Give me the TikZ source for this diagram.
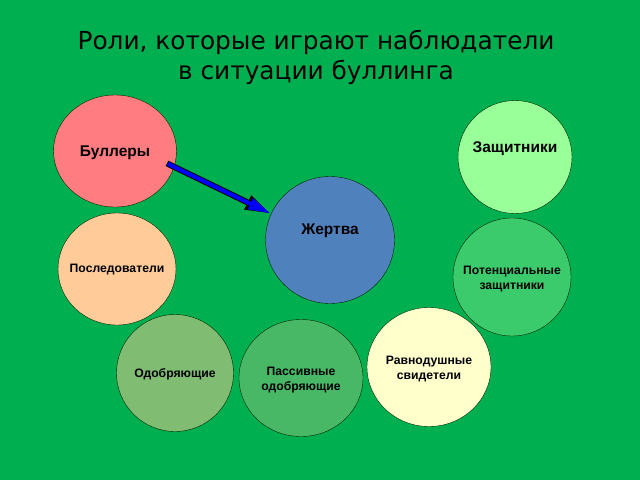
\documentclass[tikz,border=0pt]{standalone}
\usepackage{fontspec}
\setmainfont{Liberation Sans}
\newfontfamily\titulofont{DejaVu Sans}
\usetikzlibrary{shapes.geometric,arrows.meta}
\definecolor{fondo}{HTML}{00B050}
\definecolor{rosa}{HTML}{FF7C80}
\definecolor{durazno}{HTML}{FFCC99}
\definecolor{azulz}{HTML}{4F81BD}
\definecolor{verdecl}{HTML}{99FF99}
\definecolor{verdepot}{HTML}{3CCB6C}
\definecolor{verdeodo}{HTML}{80BC72}
\definecolor{verdepas}{HTML}{48B866}
\definecolor{crema}{HTML}{FFFFCC}
\begin{document}
\begin{tikzpicture}[x=1pt,y=-1pt]
\tikzstyle{every label}=[align=center, font=\bfseries\fontsize{12.2}{15}\selectfont]% texto de cada rol
\tikzstyle{rol}=[ellipse, draw=black!85!green, inner sep=0pt]% circulo de cada rol
\tikzstyle{grande}=[font=\bfseries\fontsize{15.5}{18}\selectfont]% texto mas grande
\fill[fondo] (0,0) rectangle (640,480);% fondo verde
\useasboundingbox (0,0) rectangle (640,480);
\node[align=center, font=\titulofont\fontsize{24.8}{30}\selectfont] (titulo) at (316,57) {Роли, которые играют наблюдатели\\в ситуации буллинга};
\node[rol, fill=rosa, minimum width=123, minimum height=112, label={[grande, yshift=-2pt]center:Буллеры}] (bul) at (115,151) {};
\node[rol, fill=verdecl, minimum width=114, minimum height=113, label={[grande, yshift=8pt]center:Защитники}] (zas) at (515,157) {};
\node[rol, fill=azulz, minimum width=129, minimum height=127, label={[grande, yshift=9pt]center:Жертва}] (zh) at (330,240) {};
\node[rol, fill=durazno, minimum width=118, minimum height=112, label={[yshift=-1pt]center:Последователи}] (pos) at (117,269) {};
\node[rol, fill=verdepot, minimum width=118, minimum height=118, label={[yshift=-2pt]center:Потенциальные\\защитники}] (pot) at (512,277) {};
\node[rol, fill=verdeodo, minimum width=117, minimum height=117, label={[yshift=-1pt]center:Одобряющие}] (odo) at (175,373) {};
\node[rol, fill=verdepas, minimum width=124, minimum height=117, label={[yshift=-2pt]center:Пассивные\\одобряющие}] (pas) at (301,378) {};
\node[rol, fill=crema, minimum width=124, minimum height=119, label={[yshift=-2pt]center:Равнодушные\\свидетели}] (rav) at (429,367) {};
\draw[line width=6pt, shorten <=-8pt, -{Triangle[length=26pt,width=14pt]}] (bul.-15) -- (zh.156);% borde de la flecha
\draw[blue, line width=4pt, shorten <=-7pt, -{Triangle[length=23pt,width=11pt]}] (bul.-15) -- (zh.156);% flecha azul
\end{tikzpicture}
\end{document}
